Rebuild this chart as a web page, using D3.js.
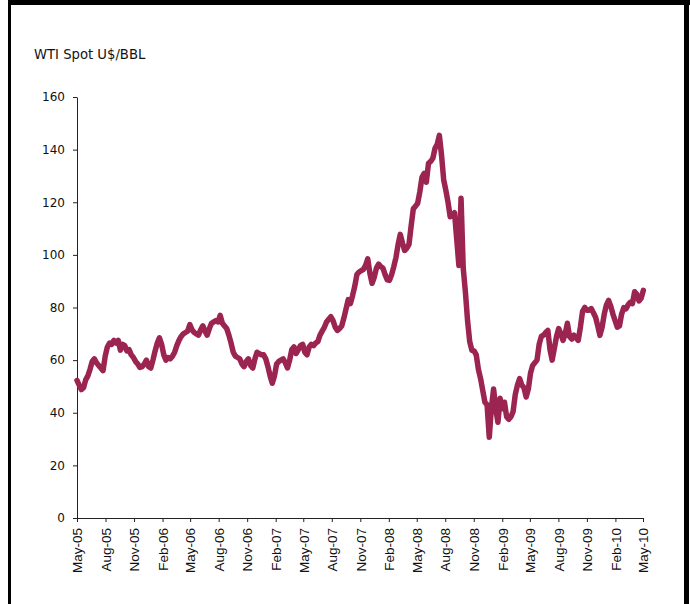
<!DOCTYPE html>
<html>
<head>
<meta charset="utf-8">
<script src="https://cdn.jsdelivr.net/npm/d3@7"></script>
<style>
  html, body { margin: 0; padding: 0; background: #fff; }
  svg { display: block; }
</style>
</head>
<body>
<svg id="chart" width="690" height="604"></svg>
<script>
// WTI spot price, US$ per barrel, weekly from the first week of May 2005
const startDate = "2005-05-01";
const wtiWeekly = [
  52.3, 50.5, 48.8, 49.5, 52.5, 54.0, 56.5, 59.5, 60.5, 59.0,
  58.0, 57.0, 56.0, 61.5, 65.0, 66.5, 66.0, 67.5, 66.5, 67.5,
  63.8, 66.0, 65.5, 63.5, 64.0, 62.0, 61.0, 59.5, 58.5, 57.2,
  57.5, 58.5, 60.0, 57.5, 57.0, 60.0, 63.5, 66.5, 68.5, 66.0,
  62.0, 60.0, 61.0, 60.5, 61.5, 63.0, 65.5, 67.5, 69.0, 70.0,
  70.5, 71.0, 73.5, 71.5, 70.5, 70.0, 69.5, 71.5, 73.0, 71.0,
  69.5, 72.0, 74.0, 74.5, 75.0, 74.5, 77.0, 74.0, 73.0, 72.0,
  69.5, 66.5, 63.0, 61.5, 61.0, 60.5, 58.5, 57.5, 59.5, 60.5,
  58.0, 57.0, 60.5, 63.0, 62.5, 62.0, 62.0, 60.5, 57.5, 54.0,
  51.2, 54.0, 58.5, 59.5, 60.0, 60.5, 59.0, 57.0, 60.0, 64.0,
  65.0, 62.5, 64.0, 65.5, 66.0, 63.0, 62.0, 65.0, 66.0, 65.5,
  66.5, 67.0, 69.5, 71.0, 72.5, 74.5, 75.5, 76.5, 75.0, 72.5,
  71.3, 72.0, 73.0, 76.0, 79.5, 83.0, 81.5, 84.5, 88.0, 92.5,
  93.5, 94.0, 94.5, 96.0, 98.5, 93.0, 89.2, 91.5, 95.0, 96.5,
  95.5, 95.0, 92.5, 90.5, 90.3, 92.5, 95.5, 99.0, 104.0, 107.8,
  104.5, 101.7, 102.5, 104.0, 111.0, 117.5, 118.5, 119.6, 124.0, 129.5,
  131.0, 127.6, 134.8, 135.5, 136.7, 140.5, 142.0, 145.4, 138.0, 128.5,
  124.5, 120.0, 114.5, 115.0, 116.0, 106.0, 96.0, 121.5, 95.0, 86.0,
  75.0, 67.0, 63.7, 63.5, 62.0, 56.5, 53.0, 48.5, 44.0, 43.0,
  30.7, 42.0, 49.0, 41.5, 36.4, 45.5, 41.5, 44.0, 38.5, 37.5,
  38.5, 40.5, 47.0, 50.5, 53.0, 50.5, 49.5, 46.0, 49.0, 55.0,
  58.0, 59.0, 60.0, 66.0, 69.0, 69.5, 70.5, 71.3, 64.0, 60.0,
  64.5, 69.0, 72.0, 70.0, 67.5, 70.0, 74.0, 69.0, 68.0, 69.5,
  68.5, 67.5, 72.5, 78.5, 80.0, 79.0, 79.0, 79.6, 78.0, 76.3,
  73.0, 69.4, 72.5, 77.5, 81.0, 82.7, 80.5, 77.5, 75.0, 72.5,
  73.0, 77.5, 80.0, 79.5, 81.0, 82.0, 81.5, 86.0, 85.0, 82.5,
  83.5, 86.5
];

// Axis labels
const xTickLabels = [
  "May-05", "Aug-05", "Nov-05", "Feb-06", "May-06", "Aug-06", "Nov-06",
  "Feb-07", "May-07", "Aug-07", "Nov-07", "Feb-08", "May-08", "Aug-08",
  "Nov-08", "Feb-09", "May-09", "Aug-09", "Nov-09", "Feb-10", "May-10"
];
const yTicks = [0, 20, 40, 60, 80, 100, 120, 140, 160];
const yTitle = "WTI Spot U$/BBL";

const parseISO = d3.timeParse("%Y-%m-%d");
const parseTick = d3.timeParse("%b-%y");
const t0 = parseISO(startDate);
const series = wtiWeekly.map((v, i) => ({ date: d3.timeDay.offset(t0, 7 * i), value: v }));
const tickDates = xTickLabels.map(parseTick);

const svg = d3.select("#chart");

// Frame
svg.append("rect").attr("x", 8).attr("y", 0).attr("width", 682).attr("height", 5).attr("fill", "#000");
svg.append("rect").attr("x", 8).attr("y", 0).attr("width", 3).attr("height", 604).attr("fill", "#000");
svg.append("rect").attr("x", 684).attr("y", 0).attr("width", 5).attr("height", 604).attr("fill", "#000");

const plot = { left: 77, right: 643, top: 97, bottom: 518 };

const x = d3.scaleTime()
  .domain([tickDates[0], tickDates[tickDates.length - 1]])
  .range([plot.left, plot.right]);
const y = d3.scaleLinear()
  .domain([0, 160])
  .range([plot.bottom, plot.top]);

// Y axis
const yAxis = svg.append("g")
  .attr("transform", `translate(${plot.left},0)`)
  .call(d3.axisLeft(y).tickValues(yTicks).tickSize(4).tickPadding(8).tickSizeOuter(0));
yAxis.select(".domain").attr("stroke", "#222");
yAxis.selectAll(".tick line").attr("stroke", "#222");
yAxis.selectAll(".tick text")
  .attr("font-family", "'DejaVu Sans', sans-serif")
  .attr("font-size", 12)
  .attr("fill", "#111");

// X axis
const xAxis = svg.append("g")
  .attr("transform", `translate(0,${plot.bottom})`)
  .call(d3.axisBottom(x).tickValues(tickDates).tickFormat(d3.timeFormat("%b-%y")).tickSize(4).tickSizeOuter(0));
xAxis.select(".domain").attr("stroke", "#222");
xAxis.selectAll(".tick line").attr("stroke", "#222");
xAxis.selectAll(".tick text")
  .attr("font-family", "'Liberation Sans', Arial, sans-serif")
  .attr("font-size", 13.5)
  .attr("fill", "#111")
  .attr("transform", "rotate(-90)")
  .attr("text-anchor", "end")
  .attr("x", -10)
  .attr("y", 0)
  .attr("dy", "0.35em");

// Axis title
svg.append("text")
  .attr("x", 34)
  .attr("y", 59)
  .attr("font-family", "'DejaVu Sans', sans-serif")
  .attr("font-size", 13.2)
  .attr("fill", "#111")
  .text(yTitle);

// Price line
const line = d3.line()
  .x(d => x(d.date))
  .y(d => y(d.value));

svg.append("path")
  .datum(series)
  .attr("d", line)
  .attr("fill", "none")
  .attr("stroke", "#9b2450")
  .attr("stroke-width", 5.5)
  .attr("stroke-linejoin", "round")
  .attr("stroke-linecap", "round");
</script>
</body>
</html>
